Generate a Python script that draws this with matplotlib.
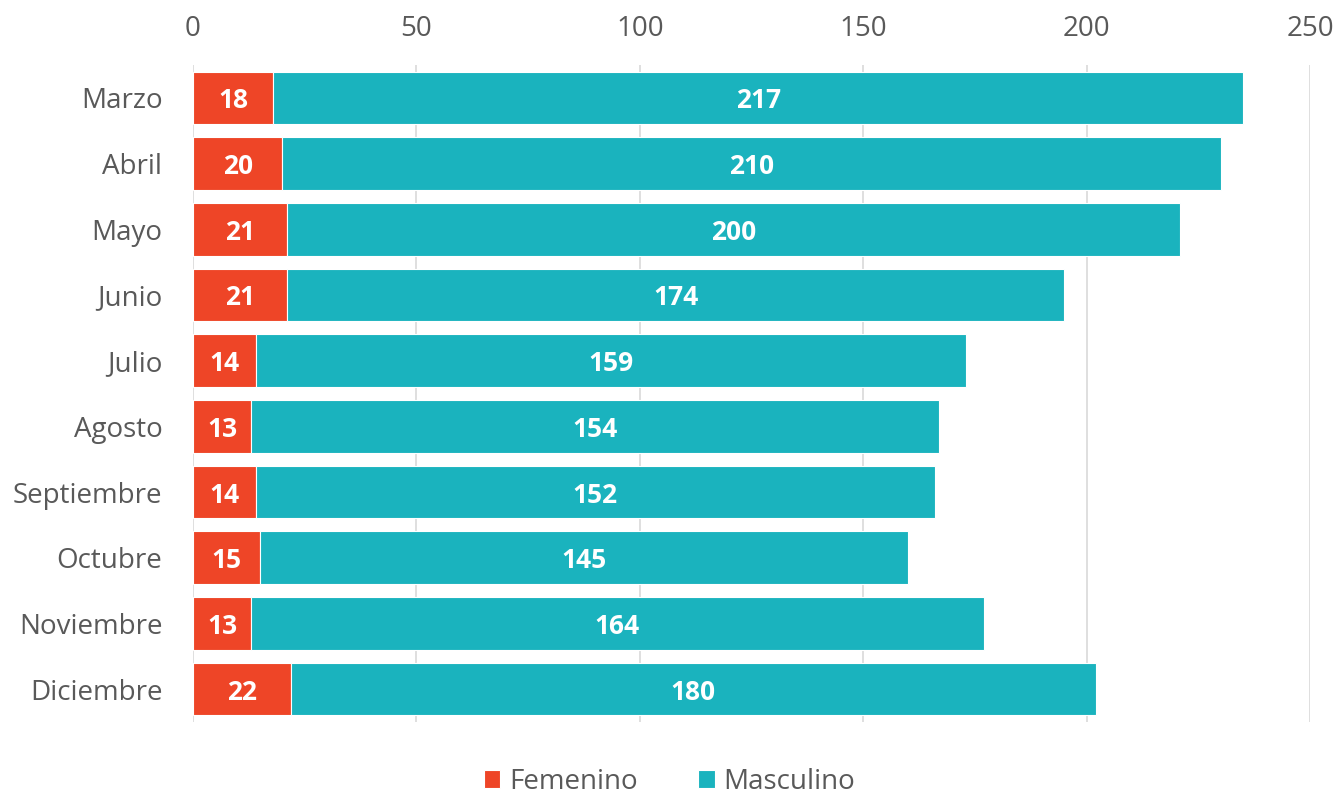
import matplotlib
matplotlib.use("Agg")
import matplotlib.pyplot as plt
import numpy as np

plt.rcParams["font.family"] = ["Open Sans", "DejaVu Sans"]

months = ["Marzo", "Abril", "Mayo", "Junio", "Julio", "Agosto",
          "Septiembre", "Octubre", "Noviembre", "Diciembre"]
femenino = [18, 20, 21, 21, 14, 13, 14, 15, 13, 22]
masculino = [217, 210, 200, 174, 159, 154, 152, 145, 164, 180]

red = "#EE4527"
teal = "#1AB3BE"
txt = "#595959"

fig = plt.figure(figsize=(13.39, 7.99), dpi=100)
ax = fig.add_axes([193/1339, 1-722/799, (1310-193)/1339, (722-65)/799])

y = np.arange(len(months))
ax.barh(y, femenino, height=0.8, color=red, edgecolor="white", linewidth=0.8,
        label="Femenino", zorder=3)
ax.barh(y, masculino, left=femenino, height=0.8, color=teal, edgecolor="white",
        linewidth=0.8, label="Masculino", zorder=3)

for i in range(len(months)):
    ax.text(femenino[i] / 2, y[i], str(femenino[i]), ha="center",
            va="center_baseline", color="white", fontsize=19,
            fontweight="bold", zorder=4)
    ax.text(femenino[i] + masculino[i] / 2, y[i], str(masculino[i]),
            ha="center", va="center_baseline", color="white", fontsize=19,
            fontweight="bold", zorder=4)

ax.set_ylim(len(months) - 0.5, -0.5)
ax.set_xlim(0, 250)
ax.set_yticks(y)
ax.set_yticklabels(months)
ax.set_xticks(np.arange(0, 251, 50))
ax.xaxis.tick_top()
ax.tick_params(axis="both", length=0, colors=txt, labelsize=20)
ax.tick_params(axis="x", pad=16)
ax.tick_params(axis="y", pad=22)
ax.grid(axis="x", color="#D9D9D9", linewidth=1.2, zorder=0)
for s in ax.spines.values():
    s.set_visible(False)

leg = fig.legend(loc="lower center", ncol=2, frameon=False, fontsize=20,
                 handlelength=0.6, handleheight=0.6, handletextpad=0.3,
                 columnspacing=2.2, borderpad=0.2, bbox_to_anchor=(0.5, -0.02))
for t in leg.get_texts():
    t.set_color(txt)

fig.savefig("out.png", dpi=100)
